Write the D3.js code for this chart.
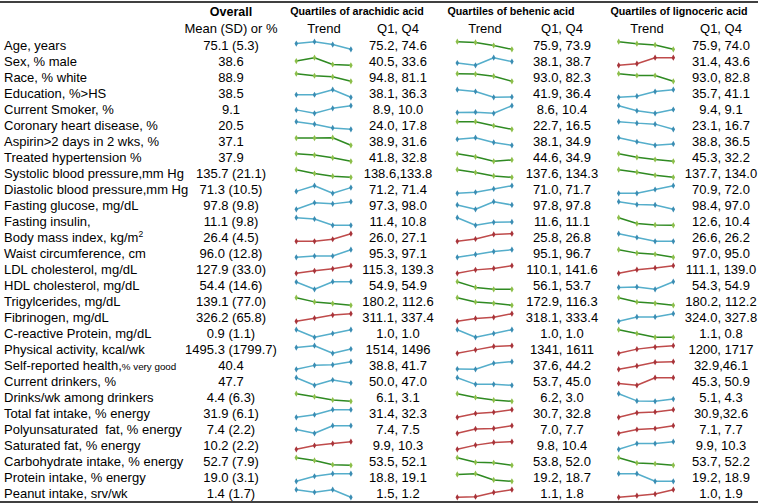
<!DOCTYPE html>
<html><head><meta charset="utf-8">
<script src="https://cdn.jsdelivr.net/npm/d3@7"></script>
<style>
html,body{margin:0;padding:0;background:#fff;}
text{font-family:"Liberation Sans",Arial,sans-serif;fill:#000;white-space:pre;}
</style></head>
<body>
<svg id="chart" width="758" height="504"></svg>
<script>
const labels = ["Age, years","Sex, % male","Race, % white","Education, %>HS","Current Smoker, %","Coronary heart disease, %","Aspirin>2 days in 2 wks, %","Treated hypertension %","Systolic blood pressure,mm Hg","Diastolic blood pressure,mm Hg","Fasting glucose, mg/dL","Fasting insulin,","Body mass index, kg/m^2","Waist circumference, cm","LDL cholesterol, mg/dL","HDL cholesterol, mg/dL","Trigylcerides, mg/dL","Fibrinogen, mg/dL","C-reactive Protein, mg/dL","Physical activity, kcal/wk","Self-reported health,|% very good","Current drinkers, %","Drinks/wk among drinkers","Total fat intake, % energy","Polyunsaturated  fat, % energy","Saturated fat, % energy","Carbohydrate intake, % energy","Protein intake, % energy","Peanut intake, srv/wk"];
const overall = ["75.1 (5.3)","38.6","88.9","38.5","9.1","20.5","37.1","37.9","135.7 (21.1)","71.3 (10.5)","97.8 (9.8)","11.1 (9.8)","26.4 (4.5)","96.0 (12.8)","127.9 (33.0)","54.4 (14.6)","139.1 (77.0)","326.2 (65.8)","0.9 (1.1)","1495.3 (1799.7)","40.4","47.7","4.4 (6.3)","31.9 (6.1)","7.4 (2.2)","10.2 (2.2)","52.7 (7.9)","19.0 (3.1)","1.4 (1.7)"];
const acids = ["Quartiles of arachidic acid","Quartiles of behenic acid","Quartiles of lignoceric acid"];
const quartiles = ["Q1","Q2","Q3","Q4"];
const q14Arachidic = ["75.2, 74.6","40.5, 33.6","94.8, 81.1","38.1, 36.3","8.9, 10.0","24.0, 17.8","38.9, 31.6","41.8, 32.8","138.6,133.8","71.2, 71.4","97.3, 98.0","11.4, 10.8","26.0, 27.1","95.3, 97.1","115.3, 139.3","54.9, 54.9","180.2, 112.6","311.1, 337.4","1.0, 1.0","1514, 1496","38.8, 41.7","50.0, 47.0","6.1, 3.1","31.4, 32.3","7.4, 7.5","9.9, 10.3","53.5, 52.1","18.8, 19.1","1.5, 1.2"];
const q14Behenic = ["75.9, 73.9","38.1, 38.7","93.0, 82.3","41.9, 36.4","8.6, 10.4","22.7, 16.5","38.1, 34.9","44.6, 34.9","137.6, 134.3","71.0, 71.7","97.8, 97.8","11.6, 11.1","25.8, 26.8","95.1, 96.7","110.1, 141.6","56.1, 53.7","172.9, 116.3","318.1, 333.4","1.0, 1.0","1341, 1611","37.6, 44.2","53.7, 45.0","6.2, 3.0","30.7, 32.8","7.0, 7.7","9.8, 10.4","53.8, 52.0","19.2, 18.7","1.1, 1.8"];
const q14Lignoceric = ["75.9, 74.0","31.4, 43.6","93.0, 82.8","35.7, 41.1","9.4, 9.1","23.1, 16.7","38.8, 36.5","45.3, 32.2","137.7, 134.0","70.9, 72.0","98.4, 97.0","12.6, 10.4","26.6, 26.2","97.0, 95.0","111.1, 139.0","54.3, 54.9","180.2, 112.2","324.0, 327.8","1.1, 0.8","1200, 1717","32.9,46.1","45.3, 50.9","5.1, 4.3","30.9,32.6","7.1, 7.7","9.9, 10.3","53.7, 52.2","19.2, 18.9","1.0, 1.9"];
// Quartile means Q1..Q4 (Q2, Q3)
const trendArachidic = [[75.2,75.4,75.1,74.6],[40.5,46.1,34.9,33.6],[94.8,91.1,89.2,81.1],[38.1,38.1,41.7,36.3],[8.9,8.0,9.3,10.0],[24.0,22.0,18.9,17.8],[38.9,38.9,39.3,31.6],[41.8,40.2,36.9,32.8],[138.6,136.2,134.5,133.8],[71.2,71.5,71.1,71.4],[97.3,97.9,97.8,98.0],[11.4,11.3,10.8,10.8],[26.0,26.0,26.3,27.1],[95.3,95.6,95.6,97.1],[115.3,123.0,129.5,139.3],[54.9,53.8,54.94,54.94],[180.2,143.0,128.1,112.6],[311.1,321.9,332.7,337.4],[1.0,0.8,0.9,1.0],[1514,1537,1442,1496],[38.8,40.3,40.5,41.7],[50.0,45.7,48.7,47.0],[6.1,4.9,3.6,3.1],[31.4,31.7,32.3,32.3],[7.4,7.3,7.5,7.5],[9.9,10.1,10.2,10.3],[53.5,53.0,52.2,52.1],[18.8,19.0,19.1,19.1],[1.5,1.4,1.5,1.2]];
const trendBehenic = [[75.9,75.7,74.9,73.9],[38.1,37.1,40.4,38.7],[93.0,92.5,89.5,82.3],[41.9,40.5,36.1,36.4],[8.6,8.7,8.4,10.4],[22.7,22.7,19.4,16.5],[38.1,38.9,36.4,34.9],[44.6,39.8,32.8,34.9],[137.6,136.4,134.9,134.3],[71.0,71.1,71.4,71.7],[97.8,97.4,98.1,97.8],[11.6,10.7,11.05,11.1],[25.8,26.1,26.7,26.8],[95.1,95.7,96.3,96.7],[110.1,124.3,130.3,141.6],[56.1,54.3,53.7,53.7],[172.9,140.6,131.0,116.3],[318.1,323.9,326.1,333.4],[1.0,0.8,0.9,1.0],[1341,1463,1584,1611],[37.6,37.3,42.8,44.2],[53.7,46.1,46.1,45.0],[6.2,4.6,3.5,3.0],[30.7,31.75,32.1,32.8],[7.0,7.4,7.45,7.7],[9.8,10.13,10.34,10.4],[53.8,52.7,52.6,52.0],[19.2,19.25,18.8,18.7],[1.1,1.16,1.55,1.8]];
const trendLignoceric = [[75.9,75.4,75.1,74.0],[31.4,34.0,43.6,43.6],[93.0,90.6,90.6,82.8],[35.7,36.5,39.75,41.1],[9.4,9.0,8.8,9.1],[23.1,21.9,21.05,16.7],[38.8,37.3,36.0,36.5],[45.3,39.0,35.3,32.2],[137.7,136.5,135.0,134.0],[70.9,70.9,71.45,72.0],[98.4,97.87,97.8,97.0],[12.6,10.9,10.5,10.4],[26.6,26.4,26.2,26.2],[97.0,96.1,95.8,95.0],[111.1,124.5,130.9,139.0],[54.3,54.35,54.1,54.9],[180.2,141.6,129.9,112.2],[324.0,326.2,326.2,327.8],[1.1,0.95,0.8,0.8],[1200,1484,1624,1717],[32.9,38.7,45.3,46.1],[45.3,43.6,50.9,50.9],[5.1,4.03,3.97,4.3],[30.9,31.9,32.1,32.6],[7.1,7.4,7.48,7.7],[9.9,10.2,10.2,10.3],[53.7,52.65,52.5,52.2],[19.2,19.2,18.9,18.9],[1.0,1.19,1.38,1.9]];
// trend class: b = no trend, g = inverse, r = positive
const classArachidic = "bggbbbgggbbbrbrbgrbbbbgbbrgbb".split("");
const classBehenic   = "gbgbbgbggbbbrbrggrbrbbgrrrggr".split("");
const classLignoceric= "grgbbbbggbbgbgrbgbgrrrbrrbgbr".split("");

const svg = d3.select("#chart");
const W = 758, H = 504;
const lineCol = {b:"#55aecb", g:"#2f8a22", r:"#bf4b4b"};
const markCol = {b:"#3b8db3", g:"#8dbf4a", r:"#a8343a"};

const yRow = d3.scalePoint().domain(d3.range(labels.length)).range([45.5, 45.5 + 16*(labels.length-1)]);

// rules
svg.append("line").attr("x1",0).attr("x2",W).attr("y1",2).attr("y2",2).attr("stroke","#000").attr("stroke-width",1.6);
svg.append("line").attr("x1",0).attr("x2",W).attr("y1",502).attr("y2",502).attr("stroke","#000").attr("stroke-width",1.6);

// headers
svg.append("text").attr("x",231).attr("y",12).attr("dy","0.35em").attr("text-anchor","middle")
  .style("font-size","12.5px").style("font-weight","bold").text("Overall");
svg.append("text").attr("x",231).attr("y",28.5).attr("dy","0.35em").attr("text-anchor","middle")
  .style("font-size","13px").text("Mean (SD) or %");

const groups = [
  {title:acids[0], q14:q14Arachidic, trend:trendArachidic, cls:classArachidic, hx:357, tx:324, qx:398, sx:296.3},
  {title:acids[1], q14:q14Behenic, trend:trendBehenic, cls:classBehenic, hx:511, tx:485, qx:562, sx:457.3},
  {title:acids[2], q14:q14Lignoceric, trend:trendLignoceric, cls:classLignoceric, hx:679, tx:647, qx:721, sx:618.7}
];

groups.forEach(g => {
  svg.append("text").attr("x",g.hx).attr("y",11.5).attr("dy","0.35em").attr("text-anchor","middle")
    .style("font-size","10.7px").style("font-weight","bold").text(g.title);
  svg.append("text").attr("x",g.tx).attr("y",28.5).attr("dy","0.35em").attr("text-anchor","middle")
    .style("font-size","13px").text("Trend");
  svg.append("text").attr("x",g.qx).attr("y",28.5).attr("dy","0.35em").attr("text-anchor","middle")
    .style("font-size","13px").text("Q1, Q4");
  const xq = d3.scalePoint().domain(quartiles).range([g.sx, g.sx + 54.6]);
  g.trend.forEach((vals, i) => {
    const cy = yRow(i);
    const ys = d3.scaleLinear().domain(d3.extent(vals)).range([cy + 3.8, cy - 3.8]);
    const c = g.cls[i];
    const line = d3.line().x((d,j)=>xq(quartiles[j])).y(d=>ys(d));
    svg.append("path").attr("d", line(vals)).attr("fill","none")
      .attr("stroke", lineCol[c]).attr("stroke-width",1.5).attr("stroke-linejoin","round");
    svg.selectAll(null).data(vals).enter().append("path")
      .attr("d", d3.symbol(d3.symbolDiamond, 11)())
      .attr("transform",(d,j)=>`translate(${xq(quartiles[j])},${ys(d)})`)
      .attr("fill", markCol[c]);
    svg.append("text").attr("x",g.qx).attr("y",cy).attr("dy","0.35em").attr("text-anchor","middle")
      .style("font-size","13px").text(g.q14[i]);
  });
});

// row labels and overall
labels.forEach((lab, i) => {
  const cy = yRow(i);
  const t = svg.append("text").attr("x",4).attr("y",cy).attr("dy","0.35em").style("font-size","13px");
  if (lab.includes("^")) {
    const [a,b] = lab.split("^");
    t.append("tspan").text(a);
    t.append("tspan").attr("dy","-5").style("font-size","8.5px").text(b);
  } else if (lab.includes("|")) {
    const [a,b] = lab.split("|");
    t.append("tspan").text(a);
    t.append("tspan").style("font-size","9.8px").text(b);
  } else {
    t.text(lab);
  }
  svg.append("text").attr("x",231).attr("y",cy).attr("dy","0.35em").attr("text-anchor","middle")
    .style("font-size","13px").text(overall[i]);
});
</script>
</body></html>
